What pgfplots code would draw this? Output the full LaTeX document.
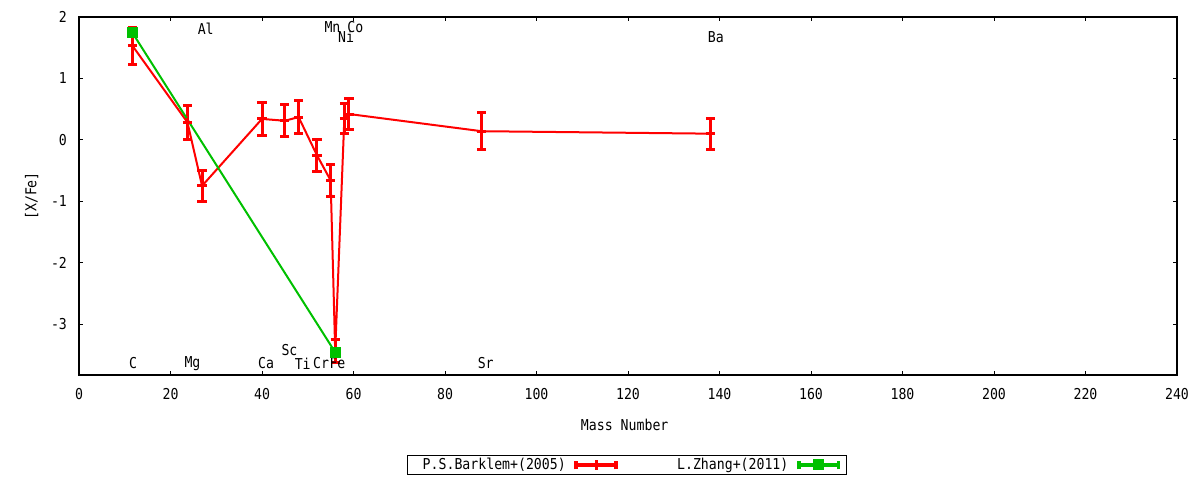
\documentclass[border=0pt]{standalone}
\usepackage{pgfplots}
\pgfplotsset{compat=1.18}
\usepackage{pgfplotstable}
\usepackage{fontspec}
\setmainfont{DejaVu Sans Mono}[FakeStretch=0.88]

\definecolor{gpred}{RGB}{255,0,0}
\definecolor{gpgreen}{RGB}{0,192,0}

% mass number, [X/Fe], error
\pgfplotstableread{
x     y      e
11.7  1.53   0.30
23.7  0.285  0.275
26.9  -0.75  0.25
40    0.34   0.27
45    0.31   0.26
48    0.37   0.27
52    -0.25  0.26
55    -0.66  0.26
56    -3.44  0.18
58    0.35   0.24
59    0.42   0.25
88    0.14   0.30
138   0.10   0.25
}\barklem

\pgfplotstableread{
x     y      e
11.7  1.74   0.0
56    -3.46  0.0
}\zhang

\begin{document}
\begin{tikzpicture}[font=\fontsize{7.5}{9}\selectfont]
\useasboundingbox (0,0) rectangle (600pt,240pt);
\begin{axis}[
    at={(39.5pt,52.5pt)}, anchor=south west,
    scale only axis, width=549pt, height=179pt,
    xmin=0, xmax=240, ymin=-3.83, ymax=2,
    xtick={0,20,...,240}, ytick={-3,-2,...,2},
    tick align=inside, major tick length=2.2pt,
    axis line style={line width=0.6pt}, tick style={line width=0.5pt, black},
    /pgf/number format/assume math mode=true,
    xticklabel style={yshift=-3pt},
    yticklabel style={xshift=-2.5pt},
    xlabel={Mass Number}, ylabel={[X/Fe]},
    xlabel style={at={(axis description cs:0.497,-0.14)}, anchor=center},
    ylabel style={at={(axis description cs:-0.043,0.5)}, anchor=center},
    legend columns=2,
    legend plot pos=right,
    legend style={at={(axis description cs:0.499,-0.2235)}, anchor=north,
        draw=black, line width=0.5pt, inner xsep=2.3pt, inner ysep=1.2pt,
        nodes={inner sep=0pt, text width=77pt, align=right, text height=5.6pt, text depth=1.4pt},
        /tikz/every odd column/.append style={column sep=3.5pt},
        /tikz/every even column/.append style={column sep=7.5pt}},
]
\pgfplotsset{
    gperr/.style={
        legend image code/.code={
            \draw[##1, line width=1.8pt, mark=none] (0pt,0pt) -- (21.5pt,0pt)
                (0.8pt,-2.2pt) -- (0.8pt,2.2pt) (20.7pt,-2.2pt) -- (20.7pt,2.2pt);
            \draw[##1, only marks] plot coordinates {(10.75pt,0pt)};
        }
    }
}
\addplot[color=gpred, line width=1pt, mark=+, mark size=2.3pt,
    mark options={line width=1.5pt}, gperr,
    error bars/.cd, y dir=both, y explicit,
    error bar style={line width=1.5pt, color=gpred},
    error mark options={rotate=90, mark size=2.3pt, line width=1.5pt, color=gpred}]
    table[x=x, y=y, y error=e] {\barklem};
\addlegendentry{P.S.Barklem+(2005)}

\addplot[color=gpgreen, line width=1pt, mark=square*, mark size=2.5pt,
    mark options={line width=0.5pt}, gperr,
    error bars/.cd, y dir=both, y explicit,
    error bar style={line width=1.5pt, color=gpgreen},
    error mark options={rotate=90, mark size=2.3pt, line width=1.5pt, color=gpgreen}]
    table[x=x, y=y, y error=e] {\zhang};
\addlegendentry{L.Zhang+(2011)}

% element labels
\node at (axis cs:11.8,-3.64) {C};
\node at (axis cs:24.8,-3.64) {Mg};
\node at (axis cs:40.9,-3.64) {Ca};
\node at (axis cs:46.0,-3.42) {Sc};
\node at (axis cs:48.9,-3.64) {Ti};
\node at (axis cs:52.9,-3.64) {Cr};
\node at (axis cs:56.5,-3.64) {Fe};
\node at (axis cs:88.9,-3.64) {Sr};
\node at (axis cs:27.7,1.815) {Al};
\node at (axis cs:55.4,1.84) {Mn};
\node at (axis cs:60.4,1.84) {Co};
\node at (axis cs:58.4,1.67) {Ni};
\node at (axis cs:139.2,1.67) {Ba};
\end{axis}
\end{tikzpicture}
\end{document}
